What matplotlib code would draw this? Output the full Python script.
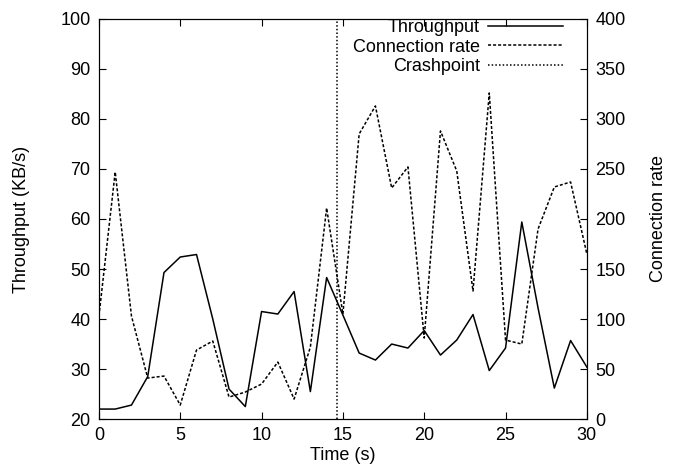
import numpy as np
import matplotlib.pyplot as plt

plt.rcParams['font.family'] = ['Liberation Sans', 'DejaVu Sans']
plt.rcParams['font.size'] = 13

time = np.arange(0, 31)
throughput = [22, 22, 22.8, 28.5, 49.3, 52.4, 52.9, 40, 26, 22.5,
              41.5, 41, 45.5, 25.5, 48.3, 40.8, 33.2, 31.8, 35, 34.2,
              37.7, 32.8, 35.8, 40.9, 29.7, 34.2, 59.4, 42.2, 26.2, 35.7,
              30.4]
conn_rate = [103, 247, 103, 41, 43, 14, 69, 78, 22, 27,
             35, 57, 20, 72, 211, 105, 285, 313, 231, 252,
             81, 288, 248, 128, 326, 79, 75, 190, 232, 237,
             165]
crashpoint = 14.65

fig = plt.figure(figsize=(6.73, 4.73), dpi=100)
ax = fig.add_axes([0.147, 0.114, 0.725, 0.846])
ax2 = ax.twinx()

l1, = ax.plot(time, throughput, color='black', linewidth=1.1, label='Throughput')
l2, = ax2.plot(time, conn_rate, color='black', linewidth=1.1,
               linestyle=(0, (2.0, 1.3)), label='Connection rate')
l3 = ax.axvline(crashpoint, color='black', linewidth=1.1,
                linestyle=(0, (1.0, 1.4)), label='Crashpoint')

ax.set_xlim(0, 30)
ax.set_ylim(20, 100)
ax2.set_ylim(0, 400)
ax.set_xticks(np.arange(0, 31, 5))
ax.set_yticks(np.arange(20, 101, 10))
ax2.set_yticks(np.arange(0, 401, 50))

ax.tick_params(axis='x', direction='in', top=True, length=5, pad=6)
ax.tick_params(axis='y', direction='in', length=5, pad=6)
ax2.tick_params(axis='y', direction='in', length=5, pad=6)

ax.set_xlabel('Time (s)', labelpad=2)
ax.set_ylabel('Throughput (KB/s)', labelpad=22)
ax2.set_ylabel('Connection rate', labelpad=18)

leg = ax2.legend(handles=[l1, l2, l3], loc='upper right', frameon=False,
                 markerfirst=False, handlelength=4.15, handletextpad=0.45,
                 labelspacing=0.15, borderpad=0, borderaxespad=0,
                 bbox_to_anchor=(0.951, 1.0))

fig.savefig('out.png', dpi=100)
